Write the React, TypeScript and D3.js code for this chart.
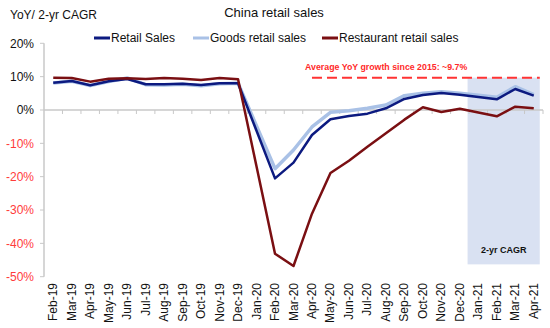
import React from "react";
import * as d3 from "d3";

const categories = [
  "Feb-19", "Mar-19", "Apr-19", "May-19", "Jun-19", "Jul-19", "Aug-19", "Sep-19", "Oct-19", "Nov-19", "Dec-19",
  "Jan-20", "Feb-20", "Mar-20", "Apr-20", "May-20", "Jun-20", "Jul-20", "Aug-20", "Sep-20", "Oct-20", "Nov-20", "Dec-20",
  "Jan-21", "Feb-21", "Mar-21", "Apr-21",
];

const retailSales: (number | null)[] = [
  8.2, 8.7, 7.4, 8.6, 9.3, 7.7, 7.7, 7.9, 7.5, 8.0, 8.0,
  null, -20.5, -15.8, -7.5, -2.8, -1.8, -1.1, 0.5, 3.3, 4.5, 5.1, 4.6,
  null, 3.2, 6.3, 4.3,
];

const goodsRetailSales: (number | null)[] = [
  8.1, 8.6, 7.3, 8.5, 9.6, 7.6, 7.5, 7.7, 7.3, 7.9, 8.0,
  null, -17.6, -12.0, -5.1, -0.7, -0.2, 0.5, 1.5, 4.3, 5.0, 5.5, 5.0,
  null, 3.8, 7.0, 4.6,
];

const restaurantSales: (number | null)[] = [
  9.7, 9.6, 8.5, 9.4, 9.5, 9.3, 9.6, 9.4, 9.0, 9.6, 9.2,
  null, -43.1, -46.8, -31.1, -18.9, -15.2, -11.0, -7.0, -2.9, 0.8, -0.6, 0.4,
  null, -1.9, 1.0, 0.5,
];

const yTicks = [20, 10, 0, -10, -20, -30, -40, -50];
const avgGrowth = 9.7;
const avgStart = "Apr-20";
const cagrStart = "Jan-21";
const cagrEnd = "Apr-21";
const cagrBottom = -46.3;

const seriesDefs = [
  { name: "Goods retail sales", values: goodsRetailSales, color: "#a9c1e6", width: 3.5 },
  { name: "Retail Sales", values: retailSales, color: "#0c1a80", width: 2.5 },
  { name: "Restaurant retail sales", values: restaurantSales, color: "#7a0f12", width: 2.5 },
];

export default function App() {
  const W = 550, H = 328;
  const left = 44, right = 543;
  const x = d3.scaleBand<string>().domain(categories).range([left, right]).padding(0);
  const cx = (c: string) => (x(c) as number) + x.bandwidth() / 2;
  const y = d3.scaleLinear().domain([-50, 20]).range([276.7, 43.3]);

  const line = d3
    .line<{ c: string; v: number }>()
    .x((d) => cx(d.c))
    .y((d) => y(d.v));

  const pts = (vals: (number | null)[]) =>
    categories
      .map((c, i) => ({ c, v: vals[i] }))
      .filter((d) => d.v !== null) as { c: string; v: number }[];

  const font = "'Liberation Sans', Arial, sans-serif";
  const shadeX0 = (x(cagrStart) as number) - 1.5;
  const shadeX1 = cx(cagrEnd) + 6;

  const legendItems = [
    { name: "Retail Sales", color: "#0c1a80", x1: 94 },
    { name: "Goods retail sales", color: "#a9c1e6", x1: 193 },
    { name: "Restaurant retail sales", color: "#7a0f12", x1: 322 },
  ];

  return (
    <svg
      width={W}
      height={H}
      style={{ position: "absolute", left: 0, top: 0, background: "#fff" }}
      fontFamily={font}
    >
      {/* shaded 2-yr CAGR region */}
      <rect
        x={shadeX0}
        y={y(avgGrowth)}
        width={shadeX1 - shadeX0}
        height={y(cagrBottom) - y(avgGrowth)}
        fill="#d9e1f2"
      />
      <text
        x={(shadeX0 + shadeX1) / 2}
        y={y(-42.8)}
        textAnchor="middle"
        fontSize={9}
        fontWeight="bold"
        fill="#111"
      >
        2-yr CAGR
      </text>

      {/* y axis */}
      <line x1={left} x2={left} y1={y(20)} y2={y(-50)} stroke="#c8c8c8" strokeWidth={1.5} />
      {yTicks.map((t) => (
        <g key={t}>
          <line x1={left - 4} x2={left} y1={y(t)} y2={y(t)} stroke="#c8c8c8" strokeWidth={1} />
          <text
            x={34}
            y={y(t)}
            dy="0.35em"
            textAnchor="end"
            fontSize={12}
            fill={t < 0 ? "#ff3b3b" : "#111"}
          >
            {t}%
          </text>
        </g>
      ))}

      {/* zero line with ticks */}
      <line x1={left} x2={right} y1={y(0)} y2={y(0)} stroke="#c8c8c8" strokeWidth={1.5} />
      {categories.map((c) => (
        <line
          key={"t" + c}
          x1={(x(c) as number) + x.bandwidth()}
          x2={(x(c) as number) + x.bandwidth()}
          y1={y(0)}
          y2={y(0) + 4}
          stroke="#c8c8c8"
          strokeWidth={1}
        />
      ))}

      {/* x labels */}
      {categories.map((c) => (
        <text
          key={"l" + c}
          transform={`translate(${cx(c) + 4},283) rotate(-90)`}
          textAnchor="end"
          fontSize={12}
          fill="#111"
        >
          {c}
        </text>
      ))}

      {/* average line */}
      <line
        x1={cx(avgStart)}
        x2={shadeX1}
        y1={y(avgGrowth)}
        y2={y(avgGrowth)}
        stroke="#ff3333"
        strokeWidth={2}
        strokeDasharray="10,5"
      />
      <text x={305} y={70} fontSize={8.8} fontWeight="bold" fill="#ff2a2a">
        Average YoY growth since 2015: ~9.7%
      </text>

      {/* series */}
      {seriesDefs.map((s) => (
        <path
          key={s.name}
          d={line(pts(s.values)) || ""}
          fill="none"
          stroke={s.color}
          strokeWidth={s.width}
          strokeLinejoin="round"
        />
      ))}

      {/* titles */}
      <text x={274} y={17} textAnchor="middle" fontSize={13} fill="#111">
        China retail sales
      </text>
      <text x={10} y={19} fontSize={12} fill="#111">
        YoY/ 2-yr CAGR
      </text>

      {/* legend */}
      {legendItems.map((l) => (
        <g key={l.name}>
          <line x1={l.x1} x2={l.x1 + 16} y1={38} y2={38} stroke={l.color} strokeWidth={3} />
          <text x={l.x1 + 17} y={42} fontSize={12} fill="#111">
            {l.name}
          </text>
        </g>
      ))}
    </svg>
  );
}
